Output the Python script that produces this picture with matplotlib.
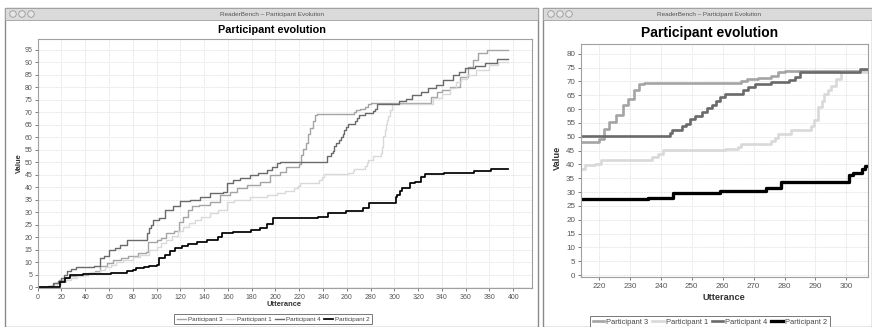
import matplotlib
matplotlib.use("Agg")
import matplotlib.pyplot as plt
from matplotlib.patches import Rectangle, Ellipse

W, H = 872, 327

# step series (x = utterance, y = value)
p3_x = [0, 10, 14, 18, 22, 26, 32, 42, 48, 52, 58, 63, 70, 76, 84, 91, 93, 100, 104, 108, 115, 119, 122,
        126, 130, 136, 145, 153, 162, 168, 176, 187, 195, 204, 209, 220, 221.7, 223.3, 225.5, 227.7,
        229.3, 231.4, 233.1, 234.5, 266, 268, 271.4, 275.7, 277.8, 280, 331, 336, 340, 347, 355, 362,
        366, 370.6, 377.6, 395.5]
p3_y = [0, 0.5, 1.5, 2.8, 3.5, 4.5, 5, 5.5, 6.5, 8.3, 9.5, 11, 11.5, 12.5, 13.5, 14.2, 18.2, 18.8, 19.5,
        21.5, 22.5, 26.2, 28, 30.9, 32.6, 33, 34.2, 36.8, 38.2, 39.5, 40.9, 42.2, 44.8, 46.2, 48.1, 49.3,
        52.9, 55.3, 57.7, 61.3, 63.7, 66.7, 69.1, 69.5, 70.3, 70.9, 71.3, 72.1, 73.4, 73.8, 76, 78, 79,
        80.3, 84.3, 88.3, 91, 93.7, 94.8, 94.8]

p1_x = [0, 12, 16, 20, 24, 28, 33, 38, 45, 52, 57, 62, 66, 72, 80, 86, 94, 100, 104, 108, 113, 118, 122,
        127, 132, 137, 145, 152, 159, 165, 178.6, 192.6, 201, 208, 215.4, 218.6, 220.8, 237, 239.1, 240.8,
        260.7, 265, 266, 275.7, 276.8, 277.8, 282.1, 288.6, 289.7, 290.8, 292, 292.9, 294, 295, 296.7,
        298.3, 305.8, 332.7, 340, 346.7, 352, 356, 360.7, 369, 380, 387, 395.5]
p1_y = [0, 0.5, 1.2, 2, 2.8, 3.5, 4.5, 5.4, 6, 6.8, 8, 9, 10.2, 11, 12.2, 13, 14.8, 16, 17.5, 18.8, 20.5,
        22.5, 24.2, 25.5, 27, 28, 29.6, 31, 34.2, 35, 36.2, 36.9, 37.5, 38.5, 39.7, 40.3, 41.5, 42.7,
        43.9, 45.1, 45.7, 46.3, 47.3, 48.5, 49.7, 50.9, 52.6, 53.8, 56, 60.7, 63, 65.5, 67, 68.5, 70.9,
        73.3, 73.5, 75.6, 77.5, 79.6, 82, 83.5, 85, 87, 89, 90.1, 90.1]

p4_x = [0, 9, 13, 17, 20, 22, 25, 28, 32, 47, 52, 56, 60, 65, 69, 75, 92, 94, 95.5, 97, 102, 107, 114,
        119.7, 128, 136.5, 145, 156, 159, 164.5, 170, 178.6, 185, 192.6, 197, 201, 204, 243, 243.5,
        246.7, 248.3, 249.4, 251, 253.2, 254.8, 256.4, 258, 259.1, 260.7, 266.6, 268.2, 270.4, 275.7,
        281.6, 283.3, 285, 304.3, 310, 314.5, 322, 328.6, 335, 341, 349.5, 354, 359.3, 368, 376, 386,
        395.5]
p4_y = [0, 0.5, 1.5, 2.5, 3.5, 5, 6.5, 7.1, 8, 8.4, 11.5, 12.5, 14.8, 15.5, 17, 18.8, 21.5, 23.5, 25,
        26.9, 27.5, 30.9, 32.5, 34.5, 35, 36.2, 37.5, 38.2, 41.6, 43, 43.5, 45, 45.5, 47, 48, 49.6, 50.3,
        51.5, 52.5, 53.7, 54.6, 56.4, 57.6, 58.8, 60.3, 61.5, 63, 64.3, 65.5, 66.7, 67.9, 69.1, 69.7,
        70.5, 71.5, 73.3, 74.4, 75.5, 77, 78, 79.6, 81, 83, 85, 86.3, 87.7, 88.6, 89.7, 91.4, 91.4]

p2_x = [0, 19, 23, 27, 38, 62, 75, 80, 83, 89, 94, 100, 102.3, 107, 111, 115.5, 121, 126.7, 133.7, 142,
        152, 155, 164, 179, 187, 193, 198, 236, 244, 259, 274, 279, 301, 302, 305, 306, 313, 317, 322.6,
        325.4, 342, 366.7, 381.5, 395.5]
p2_y = [0, 2, 3.5, 4.8, 5.3, 5.5, 6.3, 7, 7.5, 8, 8.4, 9, 11.6, 13, 14.4, 15.5, 16.5, 17.2, 18, 18.8,
        20.2, 21.8, 22, 22.9, 23.5, 25.3, 27.5, 28, 29.5, 30.5, 31.5, 33.5, 36, 37, 38.5, 39.5, 41.6,
        42.2, 44.2, 45.2, 45.6, 46.6, 47.1, 47.1]

series = [
    ("Participant 3", p3_x, p3_y, "#a4a4a4"),
    ("Participant 1", p1_x, p1_y, "#d9d9d9"),
    ("Participant 4", p4_x, p4_y, "#6a6a6a"),
    ("Participant 2", p2_x, p2_y, "#000000"),
]

plt.rcParams['font.family'] = ['Liberation Sans', 'DejaVu Sans']


def fx(x):
    return x / W


def fy(y):
    return 1 - y / H


def window(fig, x0, x1, y0, y1, title_x):
    # mac-style window frame with title bar, kept behind the axes
    fig.patches.append(Rectangle((fx(x0), fy(y1)), fx(x1 - x0), (y1 - y0) / H,
                                 transform=fig.transFigure, facecolor="white",
                                 edgecolor="#8a8a8a", linewidth=1.0, zorder=-10))
    fig.patches.append(Rectangle((fx(x0), fy(y0 + 12)), fx(x1 - x0), 12 / H,
                                 transform=fig.transFigure, facecolor="#dadada",
                                 edgecolor="#a0a0a0", linewidth=0.6, zorder=-9))
    for cx in (x0 + 8, x0 + 17, x0 + 26):
        fig.patches.append(Ellipse((fx(cx), fy(y0 + 6)), 6.5 / W, 6.5 / H,
                                   transform=fig.transFigure, facecolor="#e6e6e6",
                                   edgecolor="#8c8c8c", linewidth=0.5, zorder=-8))
    fig.text(fx(title_x), fy(y0 + 6.5), "ReaderBench \u2013 Participant Evolution",
             ha="center", va="center", fontsize=4.6, color="#555555")


def draw_chart(fig, rect, xlim, ylim, xticks, ystep, lw, tick_fs):
    ax = fig.add_axes(rect)
    ax.set_facecolor("white")
    for name, xs, ys, col in series:
        w = lw * 1.25 if col == "#000000" else lw
        ax.plot(xs, ys, drawstyle="steps-post", color=col, linewidth=w, label=name)
    ax.set_xlim(*xlim)
    ax.set_ylim(*ylim)
    ax.set_xticks(xticks)
    ax.set_yticks(range(0, int(ylim[1]) + 1, ystep))
    ax.grid(True, color="#e3e3e3", linewidth=0.6, linestyle=(0, (2, 1)))
    ax.set_axisbelow(True)
    ax.tick_params(labelsize=tick_fs, colors="#666666", length=2, width=0.6, pad=2,
                   labelcolor="#555555")
    for s in ax.spines.values():
        s.set_color("#a0a0a0")
        s.set_linewidth(0.8)
    return ax


def add_legend(ax, cx, cy, fs):
    leg = ax.legend(loc="center", bbox_to_anchor=(fx(cx), fy(cy)), bbox_transform=fig.transFigure,
                    ncol=4, fontsize=fs, frameon=True, fancybox=False, handlelength=1.5,
                    handletextpad=0.3, columnspacing=0.5, borderpad=0.35, borderaxespad=0)
    leg.get_frame().set_edgecolor("#555555")
    leg.get_frame().set_linewidth(0.7)
    for t in leg.get_texts():
        t.set_color("#444444")
    return leg


fig = plt.figure(figsize=(W / 100, H / 100), dpi=100)
fig.patch.set_facecolor("white")

window(fig, 5, 538, 8, 327, 272)
window(fig, 543, 872, 8, 327, 709)

# left chart: full range
ax1 = draw_chart(fig, [fx(37.7), fy(288), fx(531.7 - 37.7), (288 - 39) / H],
                 (0, 415.5), (-0.4, 99.4), range(0, 401, 20), 5, 1.0, 5.0)
fig.text(fx(272), fy(30), "Participant evolution", ha="center", va="center",
         fontsize=7.8, fontweight="bold")
fig.text(fx(284), fy(305), "Utterance", ha="center", va="center", fontsize=5.4,
         fontweight="bold", color="#333333")
fig.text(fx(19), fy(163), "Value", ha="center", va="center", fontsize=5.4,
         fontweight="bold", color="#333333", rotation=90)
add_legend(ax1, 273, 319, 4.5)

# right chart: zoomed range
ax2 = draw_chart(fig, [fx(580.7), fy(277.3), fx(868 - 580.7), (277.3 - 44) / H],
                 (214.1, 307), (-0.8, 83.5), range(220, 301, 10), 5, 1.9, 5.8)
fig.text(fx(710), fy(33), "Participant evolution", ha="center", va="center",
         fontsize=10, fontweight="bold")
fig.text(fx(724), fy(298), "Utterance", ha="center", va="center", fontsize=6.7,
         fontweight="bold", color="#333333")
fig.text(fx(557), fy(158), "Value", ha="center", va="center", fontsize=6.7,
         fontweight="bold", color="#333333", rotation=90)
add_legend(ax2, 710, 322, 5.4)

fig.savefig("out.png", dpi=100)
